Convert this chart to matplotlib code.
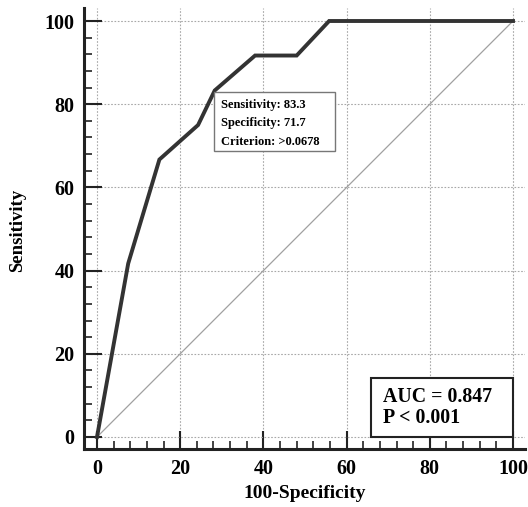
import matplotlib
matplotlib.use("Agg")
import matplotlib.pyplot as plt
from matplotlib.ticker import MultipleLocator
from matplotlib.patches import Rectangle

fpr = [0, 7.5, 15, 24.3, 28.3, 38, 48, 55.8, 100]
tpr = [0, 41.7, 66.7, 75, 83.3, 91.7, 91.7, 100, 100]
xticks = [0, 20, 40, 60, 80, 100]
yticks = [0, 20, 40, 60, 80, 100]
cut_lines = ['Sensitivity: 83.3', 'Specificity: 71.7', 'Criterion: >0.0678']
auc_lines = ['AUC = 0.847', 'P < 0.001']

plt.rcParams['font.family'] = ['Liberation Serif', 'DejaVu Serif']

fig = plt.figure(figsize=(5.28, 5.07), dpi=100)
W, H = 528, 507
ax = fig.add_axes([84 / W, 1 - 449 / H, (525 - 84) / W, (449 - 8) / H])

sx = (513 - 97) / 100
x0 = (84 - 97) / sx
x1 = (525 - 97) / sx
sy = (437 - 21) / 100
y0 = (437 - 449) / sy
y1 = (437 - 8) / sy
ax.set_xlim(x0, x1)
ax.set_ylim(y0, y1)

ax.plot([0, 100], [0, 100], color='#a0a0a0', lw=0.9, zorder=2)
ax.plot(fpr, tpr, color='#333333', lw=2.8, zorder=3, solid_joinstyle='miter')

ax.set_xticks(xticks)
ax.set_yticks(yticks)
ax.xaxis.set_minor_locator(MultipleLocator(4))
ax.yaxis.set_minor_locator(MultipleLocator(4))
ax.grid(True, which='major', color='#a8a8a8', ls=(0, (1.5, 1.5)), lw=0.8)
for s in ['top', 'right']:
    ax.spines[s].set_visible(False)
for s in ['left', 'bottom']:
    ax.spines[s].set_linewidth(2.2)
    ax.spines[s].set_color('#222222')
ax.tick_params(which='major', direction='in', length=13, width=1.5, color='#222222',
               labelsize=14.5, pad=7)
ax.tick_params(which='minor', direction='in', length=6, width=1.2, color='#222222')
for lab in ax.get_xticklabels() + ax.get_yticklabels():
    lab.set_fontweight('bold')

ax.set_xlabel('100-Specificity', fontsize=14, fontweight='bold', va='center')
ax.set_ylabel('Sensitivity', fontsize=13.5, fontweight='bold', va='center')
ax.xaxis.set_label_coords((305 - 84) / 441, -(494 - 449) / 441)
ax.yaxis.set_label_coords((18 - 84) / 441, (449 - 230) / 441)

# criterion box
ax.add_patch(Rectangle((28.2, 68.75), 57.2 - 28.2, 82.9 - 68.75, fc='white',
                       ec='#777777', lw=1.0, zorder=5))
for t, yy in zip(cut_lines, [79.8, 75.5, 70.9]):
    ax.text(29.8, yy, t, fontsize=9, fontweight='bold', va='center', ha='left', zorder=6)

# AUC box
ax.add_patch(Rectangle((65.9, 0), 100 - 65.9, 14.2, fc='white', ec='#222222',
                       lw=1.5, zorder=5))
for t, yy in zip(auc_lines, [9.6, 4.5]):
    ax.text(68.8, yy, t, fontsize=14.3, fontweight='bold', va='center', ha='left', zorder=6)

fig.savefig('out.png', dpi=100)
